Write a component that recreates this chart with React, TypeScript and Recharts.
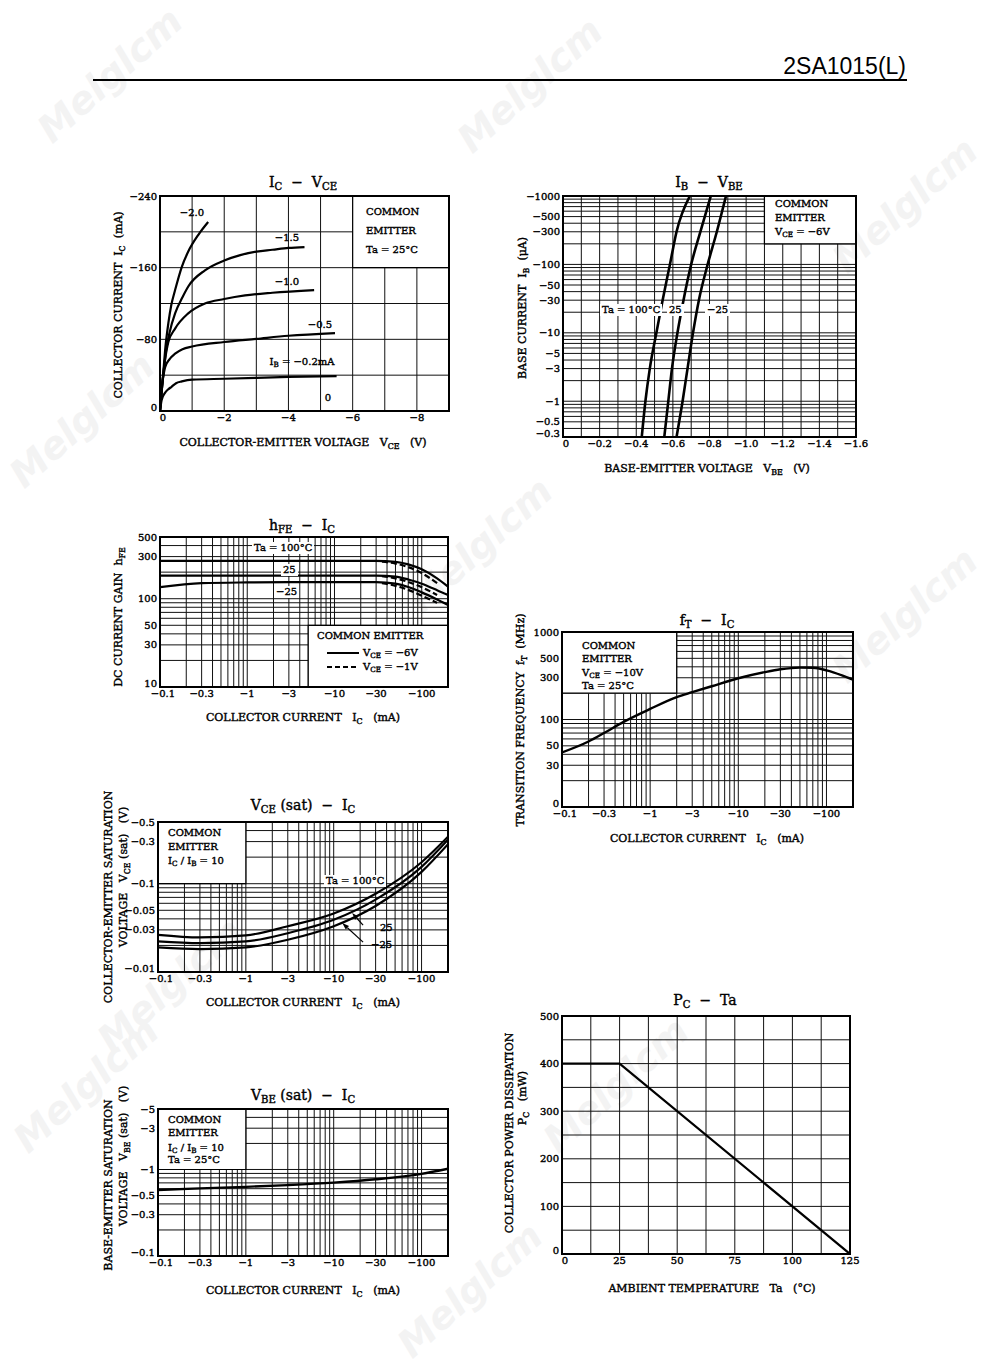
import React from "react";
import { LineChart, Line, XAxis, YAxis, CartesianGrid, ReferenceArea, ReferenceLine } from "recharts";

const SERIF = '"DejaVu Serif", "Liberation Serif", serif';

type Pt = [number, number];
type TickText = [number, string][];

// ---------- IC - VCE (magnitudes; PNP part so the axes read negative) ----------
const vceGrid = [0, 1, 2, 3, 4, 5, 6, 7, 8, 9];
const vceTicks: TickText = [[0, "0"], [2, "−2"], [4, "−4"], [6, "−6"], [8, "−8"]];
const icLinGrid = [0, 40, 80, 120, 160, 200, 240];
const icLinTicks: TickText = [[0, "0"], [80, "−80"], [160, "−160"], [240, "−240"]];
const ibCurve20: Pt[] = [[0, 0], [0.1, 42], [0.16, 68], [0.26, 98], [0.35, 118], [0.47, 135], [0.68, 161], [0.88, 178], [1.2, 197], [1.5, 211]];
const ibCurve15: Pt[] = [[0, 0], [0.1, 40], [0.2, 70], [0.3, 88], [0.47, 109], [0.7, 127], [0.88, 139], [1.4, 157], [2, 168], [2.5, 174], [3, 178], [3.5, 180], [4, 182], [4.5, 183]];
const ibCurve10: Pt[] = [[0, 0], [0.1, 40], [0.15, 55], [0.26, 77], [0.47, 92], [0.88, 109], [1.4, 120], [2, 125], [2.65, 129], [3.5, 132], [4.8, 135]];
const ibCurve05: Pt[] = [[0, 0], [0.05, 25], [0.1, 38], [0.16, 49], [0.3, 58], [0.47, 64], [0.7, 69], [1, 72], [2, 77], [3, 80.5], [4, 84], [5.45, 87]];
const ibCurve02: Pt[] = [[0, 0], [0.05, 12], [0.15, 20], [0.25, 24], [0.36, 27], [0.5, 31], [0.68, 33], [1, 35], [2, 36], [3, 37], [4, 38], [5.5, 39]];
const ibCurve00: Pt[] = [[0, 0], [5.5, 0]];

// ---------- IB - VBE ----------
const vbeGrid = [0, 0.1, 0.2, 0.3, 0.4, 0.5, 0.6, 0.7, 0.8, 0.9, 1.0, 1.1, 1.2, 1.3, 1.4, 1.5, 1.6];
const vbeTicks: TickText = [[0, "0"], [0.2, "−0.2"], [0.4, "−0.4"], [0.6, "−0.6"], [0.8, "−0.8"], [1.0, "−1.0"], [1.2, "−1.2"], [1.4, "−1.4"], [1.6, "−1.6"]];
const ibTicks: TickText = [[1000, "−1000"], [500, "−500"], [300, "−300"], [100, "−100"], [50, "−50"], [30, "−30"], [10, "−10"], [5, "−5"], [3, "−3"], [1, "−1"], [0.5, "−0.5"], [0.3, "−0.3"]];
const ibVbe100: Pt[] = [[0.43, 0.3], [0.45, 1], [0.474, 3], [0.51, 10], [0.544, 30], [0.584, 100], [0.62, 300], [0.693, 1000]];
const ibVbe25: Pt[] = [[0.553, 0.3], [0.575, 1], [0.595, 3], [0.625, 10], [0.658, 30], [0.7, 100], [0.75, 300], [0.807, 1000]];
const ibVbeM25: Pt[] = [[0.62, 0.3], [0.653, 1], [0.68, 3], [0.71, 10], [0.742, 30], [0.79, 100], [0.84, 300], [0.89, 1000]];

// ---------- shared collector current axis (log, mA) ----------
const icLogTicks: TickText = [[0.1, "−0.1"], [0.3, "−0.3"], [1, "−1"], [3, "−3"], [10, "−10"], [30, "−30"], [100, "−100"]];

// ---------- hFE - IC ----------
const hfeTicks: TickText = [[500, "500"], [300, "300"], [100, "100"], [50, "50"], [30, "30"], [10, "10"]];
const hfe100: Pt[] = [[0.1, 268], [1, 268], [10, 268], [30, 268], [50, 262], [70, 245], [100, 215], [150, 170], [200, 137]];
const hfe25: Pt[] = [[0.1, 183], [1, 183], [10, 183], [30, 183], [50, 178], [70, 165], [100, 148], [150, 125], [200, 110]];
const hfeM25: Pt[] = [[0.1, 135], [0.3, 150], [1, 153], [3, 154], [10, 154], [30, 154], [50, 148], [70, 136], [100, 118], [150, 98], [200, 85]];
const hfe100Low: Pt[] = [[35, 262], [50, 250], [70, 228], [100, 195], [150, 150]];
const hfe25Low: Pt[] = [[35, 180], [50, 170], [70, 155], [100, 135], [150, 110]];
const hfeM25Low: Pt[] = [[35, 150], [50, 140], [70, 126], [100, 108], [150, 90]];

// ---------- fT - IC ----------
const ftTicks: TickText = [[1000, "1000"], [500, "500"], [300, "300"], [100, "100"], [50, "50"], [30, "30"], [10, "0"]];
const ftCurve: Pt[] = [[0.1, 42], [0.2, 56], [0.3, 70], [0.5, 94], [1, 132], [2, 180], [3, 205], [5, 240], [10, 296], [20, 348], [30, 375], [50, 392], [70, 390], [100, 365], [150, 320], [200, 285]];

// ---------- VCE(sat) - IC ----------
const vsatTicks: TickText = [[0.5, "−0.5"], [0.3, "−0.3"], [0.1, "−0.1"], [0.05, "−0.05"], [0.03, "−0.03"], [0.01, "−0.01"]];
const vsat100: Pt[] = [[0.1, 0.0264], [0.3, 0.0247], [1, 0.026], [3, 0.033], [10, 0.046], [30, 0.077], [100, 0.175], [200, 0.34]];
const vsat25: Pt[] = [[0.1, 0.0222], [0.3, 0.0212], [1, 0.0222], [3, 0.0275], [10, 0.039], [30, 0.066], [100, 0.155], [200, 0.315]];
const vsatM25: Pt[] = [[0.1, 0.019], [0.3, 0.0182], [1, 0.019], [3, 0.0232], [10, 0.033], [30, 0.056], [100, 0.136], [200, 0.28]];

// ---------- VBE(sat) - IC ----------
const vbsatTicks: TickText = [[5, "−5"], [3, "−3"], [1, "−1"], [0.5, "−0.5"], [0.3, "−0.3"], [0.1, "−0.1"]];
const vbsatCurve: Pt[] = [[0.1, 0.578], [0.3, 0.605], [1, 0.63], [3, 0.66], [10, 0.705], [30, 0.77], [100, 0.89], [200, 1.02]];

// ---------- PC - Ta ----------
const taGrid = [0, 12.5, 25, 37.5, 50, 62.5, 75, 87.5, 100, 112.5, 125];
const taTicks: TickText = [[0, "0"], [25, "25"], [50, "50"], [75, "75"], [100, "100"], [125, "125"]];
const pcGrid = [0, 50, 100, 150, 200, 250, 300, 350, 400, 450, 500];
const pcTicks: TickText = [[0, "0"], [100, "100"], [200, "200"], [300, "300"], [400, "400"], [500, "500"]];
const pcDerating: Pt[] = [[0, 400], [25, 400], [125, 0]];

// 1..9 per decade between lo and hi
function logGrid(lo: number, hi: number): number[] {
  const out: number[] = [];
  for (let e = Math.floor(Math.log10(lo)); e <= Math.ceil(Math.log10(hi)); e++) {
    for (let m = 1; m <= 9; m++) {
      const v = Number((m * Math.pow(10, e)).toPrecision(6));
      if (v >= lo * 0.999999 && v <= hi * 1.000001) out.push(v);
    }
  }
  return out;
}

const same = (a: number, b: number) => Math.abs(a - b) <= 1e-6 * Math.max(Math.abs(a), 1e-3);

const labeler = (list: TickText) => (v: number) => {
  const hit = list.find(([t]) => same(t, v));
  return hit ? hit[1] : "";
};

const toXY = (pts: Pt[]) => pts.map(([x, y]) => ({ x, y }));

const TICK = { fontSize: 10, fill: "#000", fontFamily: SERIF, stroke: "#000", strokeWidth: 0.4 };

// the corner labels sit a little apart, as on the printed sheet
const xTick = (list: TickText, lo: number) => (props: any) => {
  const { x, y, payload } = props;
  const txt = labeler(list)(payload.value);
  if (!txt) return <g />;
  return (
    <text x={x + (same(payload.value, lo) ? 3 : 0)} y={y} dy="0.71em" textAnchor="middle" {...TICK}>
      {txt}
    </text>
  );
};

const yTick = (list: TickText, lo: number) => (props: any) => {
  const { x, y, payload } = props;
  const txt = labeler(list)(payload.value);
  if (!txt) return <g />;
  return (
    <text x={x} y={y - (same(payload.value, lo) ? 4 : 0)} dy="0.355em" textAnchor="end" {...TICK}>
      {txt}
    </text>
  );
};

const YW = 46;
const MT = 8;
const MR = 18;
const XH = 22;

type Curve = { pts: Pt[]; dash?: string; w?: number; linear?: boolean };
type Box = [number, number, number, number];
type Arrow = { from: Pt; to: Pt };

interface PanelProps {
  left: number;
  top: number;
  width: number;
  height: number;
  xDomain: [number, number];
  yDomain: [number, number];
  xLog?: boolean;
  yLog?: boolean;
  xGrid: number[];
  yGrid: number[];
  xTicks: TickText;
  yTicks: TickText;
  curves: Curve[];
  boxes?: Box[];
  arrows?: Arrow[];
}

const arrowShape = (props: any) => {
  const { x1, y1, x2, y2 } = props;
  const a = Math.atan2(y2 - y1, x2 - x1);
  const len = 7;
  const half = 2.4;
  const bx = x2 - len * Math.cos(a);
  const by = y2 - len * Math.sin(a);
  const px = -Math.sin(a) * half;
  const py = Math.cos(a) * half;
  return (
    <g>
      <line x1={x1} y1={y1} x2={bx} y2={by} stroke="#000" strokeWidth={1.2} />
      <polygon points={`${x2},${y2} ${bx + px},${by + py} ${bx - px},${by - py}`} fill="#000" />
    </g>
  );
};

function Panel(p: PanelProps) {
  return (
    <div style={{ position: "absolute", left: p.left - YW, top: p.top - MT }}>
      <LineChart
        width={YW + p.width + MR}
        height={MT + p.height + XH}
        margin={{ top: MT, right: MR, bottom: 0, left: 0 }}
      >
        <CartesianGrid stroke="#111" strokeWidth={1} />
        <XAxis
          type="number"
          dataKey="x"
          scale={p.xLog ? "log" : "linear"}
          domain={p.xDomain}
          ticks={p.xGrid}
          interval={0}
          allowDataOverflow
          height={XH}
          axisLine={false}
          tickLine={false}
          tickSize={3}
          tickMargin={0}
          tick={xTick(p.xTicks, p.xDomain[0])}
        />
        <YAxis
          type="number"
          scale={p.yLog ? "log" : "linear"}
          domain={p.yDomain}
          ticks={p.yGrid}
          interval={0}
          allowDataOverflow
          width={YW}
          axisLine={false}
          tickLine={false}
          tickSize={3}
          tickMargin={0}
          tick={yTick(p.yTicks, p.yDomain[0])}
        />
        {(p.boxes || []).map((b, i) => (
          <ReferenceArea
            key={`b${i}`}
            x1={b[0]}
            x2={b[1]}
            y1={b[2]}
            y2={b[3]}
            fill="#fff"
            fillOpacity={1}
            stroke="#000"
            strokeWidth={1.2}
          />
        ))}
        <ReferenceArea
          x1={p.xDomain[0]}
          x2={p.xDomain[1]}
          y1={p.yDomain[0]}
          y2={p.yDomain[1]}
          fill="none"
          stroke="#000"
          strokeWidth={2}
        />
        {p.curves.map((c, i) => (
          <Line
            key={`c${i}`}
            data={toXY(c.pts)}
            dataKey="y"
            type={c.linear ? "linear" : "monotone"}
            stroke="#000"
            strokeWidth={c.w ?? 2.2}
            strokeDasharray={c.dash}
            dot={false}
            activeDot={false}
            isAnimationActive={false}
          />
        ))}
        {(p.arrows || []).map((a, i) => (
          <ReferenceLine
            key={`a${i}`}
            segment={[{ x: a.from[0], y: a.from[1] }, { x: a.to[0], y: a.to[1] }]}
            shape={arrowShape}
          />
        ))}
      </LineChart>
    </div>
  );
}

function Sub({ children }: { children: React.ReactNode }) {
  return <span style={{ fontSize: "0.72em", position: "relative", top: "0.32em" }}>{children}</span>;
}

type TxtProps = {
  x: number;
  y: number;
  size?: number;
  align?: "start" | "middle" | "end";
  rot?: boolean;
  bg?: boolean;
  children: React.ReactNode;
};

function Txt({ x, y, size = 10, align = "middle", rot, bg, children }: TxtProps) {
  const tx = align === "start" ? "0" : align === "end" ? "-100%" : "-50%";
  return (
    <div
      style={{
        position: "absolute",
        left: x,
        top: y,
        transform: `translate(${tx}, -50%)${rot ? " rotate(-90deg)" : ""}`,
        fontFamily: SERIF,
        fontSize: size,
        lineHeight: 1,
        whiteSpace: "pre",
        color: "#000",
        WebkitTextStroke: "0.4px #000",
        background: bg ? "#fff" : undefined,
        padding: bg ? "1px 2px" : 0,
      }}
    >
      {children}
    </div>
  );
}

function KeySample({ x, y, dashed }: { x: number; y: number; dashed?: boolean }) {
  return (
    <svg style={{ position: "absolute", left: x, top: y - 2 }} width={32} height={4}>
      <line x1={0} y1={2} x2={32} y2={2} stroke="#000" strokeWidth={2} strokeDasharray={dashed ? "5 3" : undefined} />
    </svg>
  );
}

// faint distributor stamp spread over the sheet
const stamps: [number, number][] = [
  [110, 75], [530, 85], [905, 205], [82, 420], [480, 545], [905, 615], [170, 985], [86, 1085], [616, 1085], [470, 1290],
];

const AXIS_T = 11;

export default function App() {
  const logIc = logGrid(0.1, 200);
  return (
    <div style={{ position: "absolute", left: 0, top: 0, width: 1000, height: 1368, background: "#fff", overflow: "hidden" }}>
      {stamps.map(([x, y], i) => (
        <div
          key={i}
          style={{
            position: "absolute",
            left: x,
            top: y,
            transform: "translate(-50%, -50%) rotate(-42deg)",
            fontFamily: '"DejaVu Sans", sans-serif',
            fontWeight: 700,
            fontStyle: "italic",
            fontSize: 38,
            color: "#f3f3f3",
            whiteSpace: "nowrap",
          }}
        >
          Melglcm
        </div>
      ))}

      <div style={{ position: "absolute", right: 94, top: 55, fontFamily: '"Liberation Sans", Arial, sans-serif', fontSize: 23, lineHeight: 1 }}>
        2SA1015(L)
      </div>
      <div style={{ position: "absolute", left: 93, top: 79, width: 814, height: 2, background: "#000" }} />

      {/* IC - VCE */}
      <Panel
        left={160}
        top={196}
        width={289}
        height={215}
        xDomain={[0, 9]}
        yDomain={[0, 240]}
        xGrid={vceGrid}
        yGrid={icLinGrid}
        xTicks={vceTicks}
        yTicks={icLinTicks}
        boxes={[[6, 9, 160, 240]]}
        curves={[
          { pts: ibCurve20 },
          { pts: ibCurve15 },
          { pts: ibCurve10 },
          { pts: ibCurve05 },
          { pts: ibCurve02 },
          { pts: ibCurve00 },
        ]}
      />
      <Txt x={303} y={182} size={14}>I<Sub>C</Sub>{"  −  "}V<Sub>CE</Sub></Txt>
      <Txt x={118} y={305} size={AXIS_T} rot>COLLECTOR CURRENT  I<Sub>C</Sub>  (mA)</Txt>
      <Txt x={303} y={442} size={AXIS_T}>COLLECTOR-EMITTER VOLTAGE   V<Sub>CE</Sub>   (V)</Txt>
      <Txt x={366} y={212} align="start">COMMON</Txt>
      <Txt x={366} y={231} align="start">EMITTER</Txt>
      <Txt x={366} y={250} align="start">Ta = 25°C</Txt>
      <Txt x={192} y={213}>−2.0</Txt>
      <Txt x={287} y={238}>−1.5</Txt>
      <Txt x={287} y={282}>−1.0</Txt>
      <Txt x={320} y={325}>−0.5</Txt>
      <Txt x={302} y={362}>I<Sub>B</Sub> = −0.2mA</Txt>
      <Txt x={328} y={398}>0</Txt>

      {/* IB - VBE */}
      <Panel
        left={563}
        top={196}
        width={293}
        height={241}
        xDomain={[0, 1.6]}
        yDomain={[0.3, 1000]}
        yLog
        xGrid={vbeGrid}
        yGrid={logGrid(0.3, 1000)}
        xTicks={vbeTicks}
        yTicks={ibTicks}
        boxes={[[1.1, 1.6, 200, 1000]]}
        curves={[{ pts: ibVbe100, w: 2.6 }, { pts: ibVbe25, w: 2.6 }, { pts: ibVbeM25, w: 2.6 }]}
      />
      <Txt x={709} y={182} size={14}>I<Sub>B</Sub>{"  −  "}V<Sub>BE</Sub></Txt>
      <Txt x={522} y={308} size={AXIS_T} rot>BASE CURRENT  I<Sub>B</Sub>  (μA)</Txt>
      <Txt x={707} y={468} size={AXIS_T}>BASE-EMITTER VOLTAGE   V<Sub>BE</Sub>   (V)</Txt>
      <Txt x={775} y={204} align="start">COMMON</Txt>
      <Txt x={775} y={218} align="start">EMITTER</Txt>
      <Txt x={775} y={232} align="start">V<Sub>CE</Sub> = −6V</Txt>
      <Txt x={600} y={310} align="start" bg>Ta = 100°C</Txt>
      <Txt x={667} y={310} align="start" bg>25</Txt>
      <Txt x={705} y={310} align="start" bg>−25</Txt>

      {/* hFE - IC */}
      <Panel
        left={160}
        top={537}
        width={288}
        height={150}
        xDomain={[0.1, 200]}
        yDomain={[10, 500]}
        xLog
        yLog
        xGrid={logIc}
        yGrid={logGrid(10, 500)}
        xTicks={icLogTicks}
        yTicks={hfeTicks}
        boxes={[[5, 200, 10, 50]]}
        curves={[
          { pts: hfe100 },
          { pts: hfe25 },
          { pts: hfeM25 },
          { pts: hfe100Low, dash: "6 3" },
          { pts: hfe25Low, dash: "6 3" },
          { pts: hfeM25Low, dash: "6 3" },
        ]}
      />
      <Txt x={302} y={525} size={14}>h<Sub>FE</Sub>{"  −  "}I<Sub>C</Sub></Txt>
      <Txt x={118} y={617} size={AXIS_T} rot>DC CURRENT GAIN  h<Sub>FE</Sub></Txt>
      <Txt x={303} y={717} size={AXIS_T}>COLLECTOR CURRENT   I<Sub>C</Sub>   (mA)</Txt>
      <Txt x={252} y={548} align="start" bg>Ta = 100°C</Txt>
      <Txt x={281} y={570} align="start" bg>25</Txt>
      <Txt x={274} y={592} align="start" bg>−25</Txt>
      <Txt x={317} y={636} align="start">COMMON EMITTER</Txt>
      <KeySample x={327} y={653} />
      <Txt x={363} y={653} align="start">V<Sub>CE</Sub> = −6V</Txt>
      <KeySample x={327} y={667} dashed />
      <Txt x={363} y={667} align="start">V<Sub>CE</Sub> = −1V</Txt>

      {/* fT - IC */}
      <Panel
        left={562}
        top={632}
        width={291}
        height={175}
        xDomain={[0.1, 200]}
        yDomain={[10, 1000]}
        xLog
        yLog
        xGrid={logIc}
        yGrid={logGrid(10, 1000)}
        xTicks={icLogTicks}
        yTicks={ftTicks}
        boxes={[[0.1, 2, 200, 1000]]}
        curves={[{ pts: ftCurve, w: 2.4 }]}
      />
      <Txt x={707} y={620} size={14}>f<Sub>T</Sub>{"  −  "}I<Sub>C</Sub></Txt>
      <Txt x={520} y={720} size={AXIS_T} rot>TRANSITION FREQUENCY  f<Sub>T</Sub>  (MHz)</Txt>
      <Txt x={707} y={838} size={AXIS_T}>COLLECTOR CURRENT   I<Sub>C</Sub>   (mA)</Txt>
      <Txt x={582} y={646} align="start">COMMON</Txt>
      <Txt x={582} y={659} align="start">EMITTER</Txt>
      <Txt x={582} y={673} align="start">V<Sub>CE</Sub> = −10V</Txt>
      <Txt x={582} y={686} align="start">Ta = 25°C</Txt>

      {/* VCE(sat) - IC */}
      <Panel
        left={158}
        top={822}
        width={290}
        height={150}
        xDomain={[0.1, 200]}
        yDomain={[0.01, 0.5]}
        xLog
        yLog
        xGrid={logIc}
        yGrid={logGrid(0.01, 0.5)}
        xTicks={icLogTicks}
        yTicks={vsatTicks}
        boxes={[[0.1, 1, 0.1, 0.5]]}
        curves={[{ pts: vsat100 }, { pts: vsat25 }, { pts: vsatM25 }]}
        arrows={[
          { from: [21.6, 0.034], to: [16.2, 0.0465] },
          { from: [21.6, 0.0218], to: [12.5, 0.0358] },
        ]}
      />
      <Txt x={303} y={805} size={14}>V<Sub>CE</Sub> (sat){"  −  "}I<Sub>C</Sub></Txt>
      <Txt x={108} y={897} size={AXIS_T} rot>COLLECTOR-EMITTER SATURATION</Txt>
      <Txt x={123} y={877} size={AXIS_T} rot>VOLTAGE   V<Sub>CE</Sub> (sat)   (V)</Txt>
      <Txt x={303} y={1002} size={AXIS_T}>COLLECTOR CURRENT   I<Sub>C</Sub>   (mA)</Txt>
      <Txt x={168} y={833} align="start">COMMON</Txt>
      <Txt x={168} y={847} align="start">EMITTER</Txt>
      <Txt x={168} y={861} align="start">I<Sub>C</Sub> / I<Sub>B</Sub> = 10</Txt>
      <Txt x={324} y={881} align="start" bg>Ta = 100°C</Txt>
      <Txt x={380} y={928} align="start">25</Txt>
      <Txt x={371} y={945} align="start">−25</Txt>

      {/* VBE(sat) - IC */}
      <Panel
        left={158}
        top={1109}
        width={290}
        height={147}
        xDomain={[0.1, 200]}
        yDomain={[0.1, 5]}
        xLog
        yLog
        xGrid={logIc}
        yGrid={logGrid(0.1, 5)}
        xTicks={icLogTicks}
        yTicks={vbsatTicks}
        boxes={[[0.1, 1, 1, 5]]}
        curves={[{ pts: vbsatCurve, w: 2.4 }]}
      />
      <Txt x={303} y={1095} size={14}>V<Sub>BE</Sub> (sat){"  −  "}I<Sub>C</Sub></Txt>
      <Txt x={108} y={1185} size={AXIS_T} rot>BASE-EMITTER SATURATION</Txt>
      <Txt x={123} y={1156} size={AXIS_T} rot>VOLTAGE   V<Sub>BE</Sub> (sat)   (V)</Txt>
      <Txt x={303} y={1290} size={AXIS_T}>COLLECTOR CURRENT   I<Sub>C</Sub>   (mA)</Txt>
      <Txt x={168} y={1120} align="start">COMMON</Txt>
      <Txt x={168} y={1133} align="start">EMITTER</Txt>
      <Txt x={168} y={1148} align="start">I<Sub>C</Sub> / I<Sub>B</Sub> = 10</Txt>
      <Txt x={168} y={1160} align="start">Ta = 25°C</Txt>

      {/* PC - Ta */}
      <Panel
        left={562}
        top={1016}
        width={288}
        height={238}
        xDomain={[0, 125]}
        yDomain={[0, 500]}
        xGrid={taGrid}
        yGrid={pcGrid}
        xTicks={taTicks}
        yTicks={pcTicks}
        curves={[{ pts: pcDerating, linear: true, w: 2.2 }]}
      />
      <Txt x={705} y={1000} size={14}>P<Sub>C</Sub>{"  −  "}Ta</Txt>
      <Txt x={509} y={1133} size={AXIS_T} rot>COLLECTOR POWER DISSIPATION</Txt>
      <Txt x={522} y={1098} size={AXIS_T} rot>P<Sub>C</Sub>   (mW)</Txt>
      <Txt x={712} y={1288} size={AXIS_T}>AMBIENT TEMPERATURE   Ta   (°C)</Txt>
    </div>
  );
}
